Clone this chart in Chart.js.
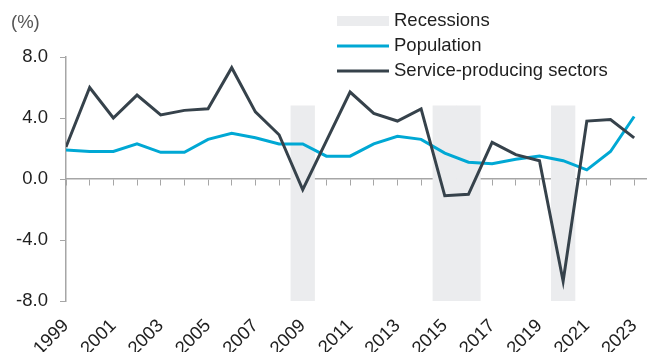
<html>
    <head>
        <script src="https://cdn.jsdelivr.net/npm/chart.js@4.4.0/dist/chart.umd.min.js"></script>
        <style>
            body {
                margin: 0px;
                background: #ffffff;
            }

            #wrap {
                width: 651px;
                height: 352px;
            }
        </style>
    </head>

    <body>
        <div id="wrap">
            <canvas id="chart" width="651" height="352"></canvas>
        </div>
        <script>
            // Annual growth, %
            const years = [
                1999, 2000, 2001, 2002, 2003, 2004, 2005, 2006, 2007, 2008, 2009, 2010, 2011,
                2012, 2013, 2014, 2015, 2016, 2017, 2018, 2019, 2020, 2021, 2022, 2023,
            ]
            const population = [
                1.9, 1.8, 1.8, 2.3, 1.75, 1.75, 2.6, 3.0, 2.7, 2.3, 2.3, 1.5, 1.5,
                2.3, 2.8, 2.6, 1.7, 1.1, 1.0, 1.3, 1.5, 1.2, 0.6, 1.8, 4.1,
            ]
            const services = [
                2.1, 6.0, 4.0, 5.5, 4.2, 4.5, 4.6, 7.3, 4.4, 2.9, -0.7, 2.5, 5.7,
                4.3, 3.8, 4.6, -1.1, -1.0, 2.4, 1.6, 1.2, -6.7, 3.8, 3.9, 2.7,
            ]
            const recessionYears = [2009, 2015, 2016, 2020]
            const recessionSpan = [-8, 4.8]
            const xLabelYears = [1999, 2001, 2003, 2005, 2007, 2009, 2011, 2013, 2015, 2017, 2019, 2021, 2023]
            const yTicks = [-8, -4, 0, 4, 8]

            const FONT = 'Liberation Sans, Arial, sans-serif'
            const AXIS_GREY = '#a6a6a6'
            const TEXT = '#1f1f1f'

            const toPoints = (ys) => years.map((x, i) => ({ x: x, y: ys[i] }))

            // legend stacked top-right, plus the "(%)" unit label
            const legendPlugin = {
                id: 'stackedLegend',
                afterDraw(chart) {
                    const ctx = chart.ctx
                    ctx.save()
                    ctx.font = '18.5px ' + FONT
                    ctx.textBaseline = 'middle'
                    ctx.fillStyle = '#555555'
                    ctx.fillText('(%)', 11, 23)

                    const x0 = 337
                    const w = 52
                    const rows = [21, 46, 71]
                    chart.data.datasets.forEach((ds) => {
                        const y = rows[ds.legendRow]
                        if (ds.type === 'bar') {
                            ctx.fillStyle = ds.backgroundColor
                            ctx.fillRect(x0, y - 5, w, 10)
                        } else {
                            ctx.strokeStyle = ds.borderColor
                            ctx.lineWidth = 3
                            ctx.beginPath()
                            ctx.moveTo(x0, y)
                            ctx.lineTo(x0 + w, y)
                            ctx.stroke()
                        }
                        ctx.fillStyle = TEXT
                        ctx.fillText(ds.label, x0 + w + 5, y)
                    })
                    ctx.restore()
                },
            }

            const ctx = document.getElementById('chart')
            const chart = new Chart(ctx, {
                data: {
                    datasets: [
                        {
                            type: 'line',
                            label: 'Population',
                            legendRow: 1,
                            data: toPoints(population),
                            borderColor: '#00a8d4',
                            borderWidth: 3,
                            pointRadius: 0,
                            tension: 0,
                            order: 2,
                        },
                        {
                            type: 'line',
                            label: 'Service-producing sectors',
                            legendRow: 2,
                            data: toPoints(services),
                            borderColor: '#36424b',
                            borderWidth: 3,
                            pointRadius: 0,
                            tension: 0,
                            order: 1,
                        },
                        {
                            type: 'bar',
                            label: 'Recessions',
                            legendRow: 0,
                            data: recessionYears.map((yr) => ({ x: yr, y: recessionSpan })),
                            backgroundColor: '#ebecee',
                            borderWidth: 0,
                            barPercentage: 1.0,
                            categoryPercentage: 1.0,
                            order: 3,
                        },
                    ],
                },
                options: {
                    responsive: false,
                    animation: false,
                    layout: {
                        padding: { top: 57, right: 5, left: 0, bottom: 0 },
                    },
                    plugins: {
                        legend: { display: false },
                        tooltip: { enabled: false },
                    },
                    scales: {
                        x: {
                            type: 'linear',
                            position: 'bottom',
                            offset: false,
                            min: 1999,
                            max: 2023.5,
                            afterBuildTicks: (scale) => {
                                scale.ticks = xLabelYears.map((v) => ({ value: v }))
                            },
                            grid: { display: false, offset: false },
                            border: { display: false },
                            ticks: {
                                autoSkip: false,
                                maxRotation: 45,
                                minRotation: 45,
                                padding: 6,
                                color: TEXT,
                                font: { family: FONT, size: 18.5 },
                                callback: (v) => String(v),
                            },
                            afterFit: (scale) => {
                                scale.height = 51
                                scale.paddingLeft = 0
                                scale.paddingRight = 0
                            },
                        },
                        // axis line with yearly tick marks sitting on zero
                        x2: {
                            type: 'linear',
                            position: { y: 0 },
                            offset: false,
                            min: 1999,
                            max: 2023.5,
                            afterBuildTicks: (scale) => {
                                scale.ticks = years.map((v) => ({ value: v }))
                            },
                            grid: {
                                offset: false,
                                drawOnChartArea: false,
                                drawTicks: true,
                                tickLength: 6,
                                color: AXIS_GREY,
                                lineWidth: 1,
                            },
                            border: { display: true, color: AXIS_GREY, width: 1.5 },
                            ticks: { display: false },
                        },
                        y: {
                            type: 'linear',
                            position: 'left',
                            min: -8,
                            max: 8,
                            afterBuildTicks: (scale) => {
                                scale.ticks = yTicks.map((v) => ({ value: v }))
                            },
                            grid: {
                                drawOnChartArea: false,
                                drawTicks: true,
                                tickLength: 6,
                                color: AXIS_GREY,
                            },
                            border: { display: true, color: AXIS_GREY, width: 1.5 },
                            ticks: {
                                padding: 12,
                                color: TEXT,
                                font: { family: FONT, size: 18.5 },
                                callback: (v) => v.toFixed(1),
                            },
                            afterFit: (scale) => {
                                scale.width = 66
                                scale.paddingTop = 0
                                scale.paddingBottom = 0
                            },
                        },
                    },
                },
                plugins: [legendPlugin],
            })
        </script>
    </body>
</html>
